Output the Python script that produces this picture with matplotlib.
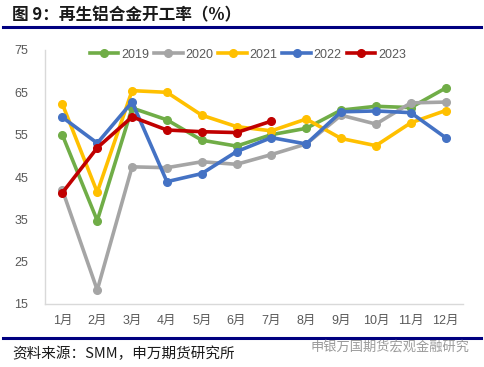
import matplotlib
matplotlib.use("Agg")
import matplotlib.pyplot as plt
from matplotlib.lines import Line2D

plt.rcParams['font.family'] = ['Liberation Sans', 'Noto Sans CJK SC', 'DejaVu Sans']

months = ["1月", "2月", "3月", "4月", "5月", "6月", "7月", "8月", "9月", "10月", "11月", "12月"]
y2019 = [54.9, 34.7, 61.3, 58.5, 53.7, 52.3, 55.0, 56.5, 60.8, 61.7, 61.4, 66.0]
y2020 = [41.9, 18.3, 47.4, 47.2, 48.6, 48.0, 50.3, 52.8, 59.6, 57.5, 62.5, 62.7]
y2021 = [62.2, 41.4, 65.4, 65.0, 59.6, 56.9, 55.9, 58.7, 54.1, 52.4, 57.8, 60.7]
y2022 = [59.1, 53.0, 62.7, 43.9, 45.8, 51.0, 54.3, 52.8, 60.4, 60.6, 60.2, 54.3]
y2023 = [41.3, 51.9, 59.2, 56.1, 55.7, 55.5, 58.2]
series_names = ["2019", "2020", "2021", "2022", "2023"]
colors = ["#70AD47", "#A5A5A5", "#FFC000", "#4472C4", "#C00000"]
yticks = [15, 25, 35, 45, 55, 65, 75]

fig = plt.figure(figsize=(4.85, 3.67), dpi=100)
ax = fig.add_axes([45/485, 1-304/367, (463-45)/485, (304-50)/367])

x = list(range(len(months)))
for name, data, c in zip(series_names, [y2019, y2020, y2021, y2022, y2023], colors):
    ax.plot(x[:len(data)], data, color=c, lw=2.6, marker='o', ms=5.5, label=name,
            solid_joinstyle='round', zorder=3)

ax.set_xlim(-0.5, 11.5)
ax.set_ylim(15, 75)
ax.set_yticks(yticks)
ax.set_xticks(x)
ax.set_xticklabels(months)
ax.tick_params(axis='both', length=0, labelsize=9, colors='#595959')
ax.tick_params(axis='y', pad=12)
ax.tick_params(axis='x', pad=8)
for s in ['top', 'right']:
    ax.spines[s].set_visible(False)
for s in ['left', 'bottom']:
    ax.spines[s].set_color('#D9D9D9')
    ax.spines[s].set_linewidth(1.0)

leg = ax.legend(loc='upper center', bbox_to_anchor=(0.485, 1.025), ncol=5, frameon=False,
                fontsize=9, handlelength=2.3, columnspacing=0.4, handletextpad=0.2,
                borderaxespad=0)
for t in leg.get_texts():
    t.set_color('#595959')

# title and decorations
fig.text(12/485, 1-15/367, "图 9：再生铝合金开工率（%）", fontsize=12, fontweight='bold',
         family=['Noto Sans CJK SC', 'DejaVu Sans'], va='center', ha='left', color='#1a1a1a')
fig.add_artist(Line2D([3/485, 481/485], [1-26.5/367, 1-26.5/367], color='#000080', lw=2.2))
fig.add_artist(Line2D([3/485, 481/485], [1-338/367, 1-338/367], color='#000080', lw=2.2))
fig.text(12/485, 1-354/367, "资料来源：SMM，申万期货研究所", fontsize=10.5,
         family=['Noto Sans CJK SC', 'DejaVu Sans'], va='center', ha='left', color='#1a1a1a')
fig.text(470/485, 1-347/367, "申银万国期货宏观金融研究", fontsize=9.5,
         family=['Noto Sans CJK SC', 'DejaVu Sans'], va='center', ha='right', color='#9a9a9a')

fig.savefig("out.png", dpi=100)
